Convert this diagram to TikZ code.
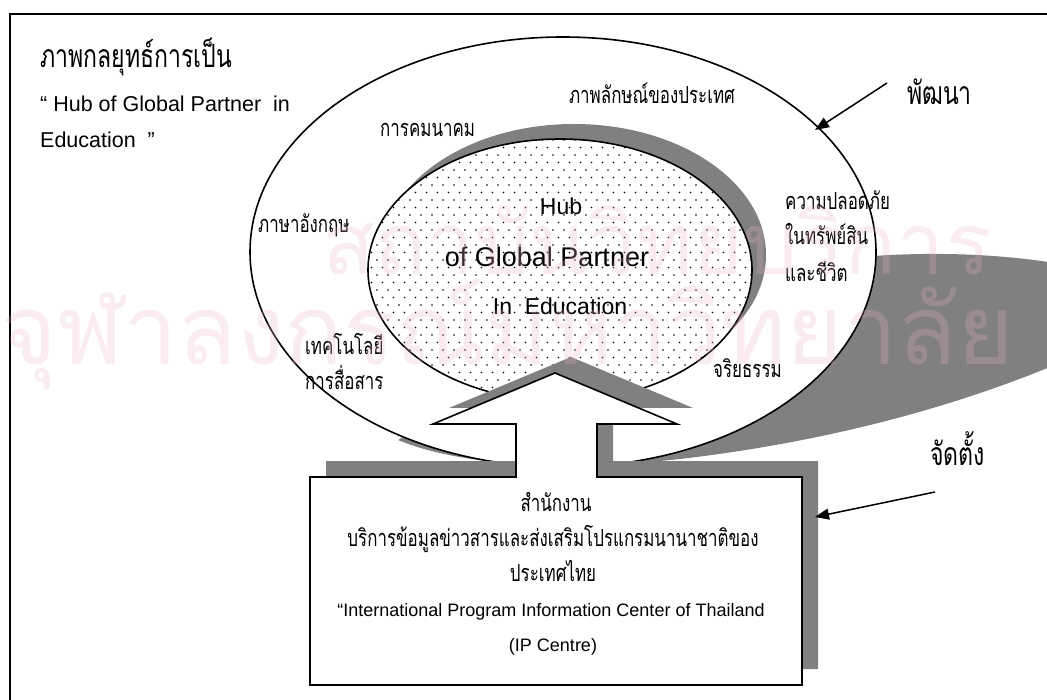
\documentclass[tikz,border=0pt]{standalone}
\usepackage{fontspec}
\setmainfont{Liberation Sans}
\newfontfamily\thaifont[Script=Thai, FakeStretch=0.72]{Loma}
\newfontfamily\thaiwm[Script=Thai]{Loma}
\usetikzlibrary{arrows.meta}
\definecolor{shadowgray}{RGB}{128,128,128}
\definecolor{wmcol}{RGB}{235,179,199}
\begin{document}
\begin{tikzpicture}[x=1pt,y=-1pt,
  th/.style={font=\thaifont\fontsize{23.5}{26}\selectfont, inner sep=0pt},
  thtitle/.style={font=\thaifont\fontsize{32}{34}\selectfont, inner sep=0pt},
  thcall/.style={font=\thaifont\fontsize{32}{34}\selectfont, inner sep=0pt},
  en/.style={font=\fontsize{21.5}{24}\selectfont, inner sep=0pt},
  hub/.style={font=\fontsize{23}{26}\selectfont, inner sep=0pt},
  hubbig/.style={font=\fontsize{27}{30}\selectfont, inner sep=0pt},
  boxen/.style={font=\fontsize{18}{20}\selectfont, inner sep=0pt},
  wm/.style={font=\thaiwm\fontsize{#1}{100}\selectfont, inner sep=0pt, text=wmcol, text opacity=0.25},
  callout/.style={line width=1.5pt, -{Triangle[length=14pt,width=11pt]}},
  outline/.style={line width=1.6pt},
  frameline/.style={line width=2pt},
]
\useasboundingbox (0,0) rectangle (1047,700);
\clip (0,0) rectangle (1047,700);
% frame
\draw[frameline] (10,720) -- (10,14) -- (1070,14);
% big shadow of outer ellipse
\fill[shadowgray] (640,300) -- (860,257) .. controls (945,250) and (1030,255) .. (1100,272)
  -- (1100,345) .. controls (1000,392) and (860,438) .. (680,459)
  .. controls (590,469) and (470,470) .. (398,440) -- cycle;
% outer ellipse
\filldraw[outline, fill=white] (563,252) ellipse [x radius=313pt, y radius=215pt];
% inner ellipse shadow
\fill[shadowgray] (574,255) ellipse [x radius=192pt, y radius=131pt];
% inner ellipse with dots
\fill[white] (560,270) ellipse [x radius=192pt, y radius=131pt];
\begin{scope}
  \clip (560,270) ellipse [x radius=192pt, y radius=131pt];
  \foreach \r in {0,...,36} {
    \foreach \c in {0,...,36} {
      \fill ({366+\c*11+mod(\r,2)*5.5},{140+\r*7.5}) circle (0.85pt);
    }
  }
\end{scope}
\draw[outline] (560,270) ellipse [x radius=192pt, y radius=131pt];
% arrow + box
\def\arrowbox{(310,477) -- (516,477) -- (516,424) -- (433,424) -- (555,373) -- (677,424) -- (597,424) -- (597,477) -- (802,477) -- (802,685) -- (310,685) -- cycle}
\fill[shadowgray, shift={(16,-16)}] \arrowbox;
\filldraw[outline, fill=white] \arrowbox;
% texts
\node[thtitle, anchor=base west] (t1) at (40,68) {ภาพกลยุทธ์การเป็น};
\node[en, anchor=base west] (t2) at (40,112) {“ Hub of Global Partner\ \ in};
\node[en, anchor=base west] (t3) at (40,148) {Education\ \ ”};
\node[th, anchor=base west] (l1) at (380,137) {การคมนาคม};
\node[th, anchor=base] (l2) at (652,104) {ภาพลักษณ์ของประเทศ};
\node[thcall, anchor=base west] (dev) at (907,105) {พัฒนา};
\node[th, anchor=base west] (l3) at (258,233) {ภาษาอังกฤษ};
\node[th, anchor=base west] (l4) at (785,210) {ความปลอดภัย};
\node[th, anchor=base west] (l5) at (785,245) {ในทรัพย์สิน};
\node[th, anchor=base west] (l6) at (785,282) {และชีวิต};
\node[th, anchor=base west] (l7) at (305,355) {เทคโนโลยี};
\node[th, anchor=base west] (l8) at (305,390) {การสื่อสาร};
\node[th, anchor=base west] (l9) at (713,378) {จริยธรรม};
\node[thcall, anchor=base west] (est) at (930,465) {จัดตั้ง};
\node[hub, anchor=base] (h1) at (561,215) {Hub};
\node[hubbig, anchor=base] (h2) at (547,267) {of Global Partner};
\node[hub, anchor=base] (h3) at (560,315) {In\ \ Education};
\node[th, anchor=base] (b1) at (556,511) {สำนักงาน};
\node[th, anchor=base] (b2) at (553,546) {บริการข้อมูลข่าวสารและส่งเสริมโปรแกรมนานาชาติของ};
\node[th, anchor=base] (b3) at (553,581) {ประเทศไทย};
\node[boxen, anchor=base] (b4) at (551,616) {“International Program Information Center of Thailand};
\node[boxen, anchor=base] (b5) at (553,651) {(IP Centre)};
% callout arrows
\coordinate (a1s) at (887,83);
\coordinate (a1e) at (815,130);
\coordinate (a2s) at (935,492);
\coordinate (a2e) at (815,517);
\draw[callout] (a1s) -- (a1e);
\draw[callout] (a2s) -- (a2e);
% faint watermark over everything
\node[wm=86, anchor=base west] (wmA) at (322,275) {สถาบันวิทยบริการ};
\node[wm=97, anchor=base west] (wmB) at (0,365) {จุฬาลงกรณ์มหาวิทยาลัย};
\end{tikzpicture}
\end{document}
